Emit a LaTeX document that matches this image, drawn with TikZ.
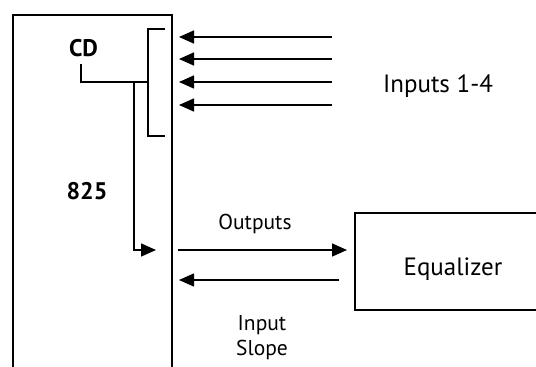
\documentclass[tikz,border=0pt]{standalone}
\usepackage{fontspec}
\setmainfont{PT Sans}
\usetikzlibrary{arrows.meta}
\begin{document}
\begin{tikzpicture}[x=1pt,y=-1pt,
  line/.style={line width=1.6pt,black},
  arr/.style={line, -{Triangle[length=15pt,width=13pt]}},
  big/.style={font=\fontsize{25}{29}\selectfont},
  bigb/.style={font=\fontsize{24}{28}\selectfont\bfseries},
  small/.style={font=\fontsize{21.5}{25}\selectfont, align=center},
  box/.style={line, draw, inner sep=0pt}]
\useasboundingbox (0,0) rectangle (536,367);
\clip (0,0) rectangle (536,367);
% main 825 box
\node[box, minimum width=159pt, minimum height=400pt, anchor=north west] (main) at (12,14) {};
% equalizer box
\node[box, minimum width=200pt, minimum height=97pt, anchor=north west] (eq) at (354,212) {};
\node[big, anchor=base] (eqt) at (453,275) {Equalizer};
% labels
\node[bigb, anchor=base] (cd) at (83.5,56) {CD};
\node[bigb, anchor=base] (n825) at (87,199) {825};
\node[big, anchor=base] (inl) at (438,92) {Inputs 1-4};
\node[small, anchor=base] (outl) at (255,229) {Outputs};
\node[small, anchor=base] (inpl) at (262,330) {Input};
\node[small, anchor=base] (slpl) at (262,355) {Slope};
% bracket
\coordinate (bt) at (165,29);
\coordinate (bb) at (165,136);
\draw[line] (bt) -- (148,29) -- (148,136) -- (bb);
% CD connection
\coordinate (cdl) at (81,64);
\coordinate (cdj) at (148,82);
\draw[line] (cdl) -- (81,82) -- (cdj);
\coordinate (sj) at (134,82);
\coordinate (stip) at (156,250);
\draw[arr] (sj) -- (134,250) -- (stip);
% input arrows
\foreach \y/\n in {37/a,59/b,82/c,105/d}{
  \coordinate (is\n) at (332,\y);
  \coordinate (it\n) at (179,\y);
  \draw[arr] (is\n) -- (it\n);
}
% outputs / input slope
\coordinate (os) at (178,250);
\coordinate (ot) at (347,250);
\draw[arr] (os) -- (ot);
\coordinate (ss) at (339,280);
\coordinate (st) at (179,280);
\draw[arr] (ss) -- (st);
\end{tikzpicture}
\end{document}
